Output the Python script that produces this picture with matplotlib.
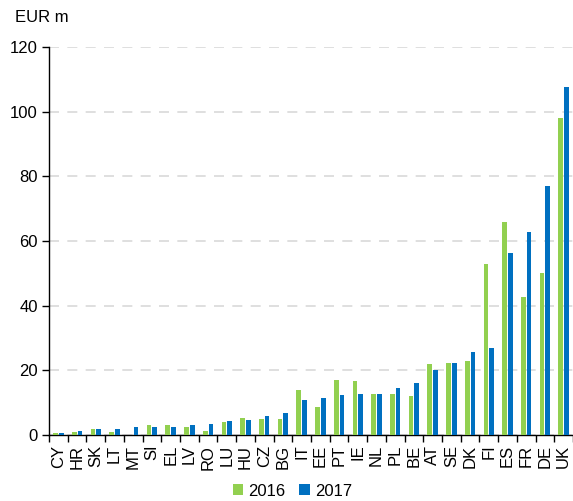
import matplotlib.pyplot as plt
import numpy as np

countries = ['CY', 'HR', 'SK', 'LT', 'MT', 'SI', 'EL', 'LV', 'RO', 'LU', 'HU', 'CZ', 'BG',
             'IT', 'EE', 'PT', 'IE', 'NL', 'PL', 'BE', 'AT', 'SE', 'DK', 'FI', 'ES', 'FR',
             'DE', 'UK']
v2016 = [0.5, 1.0, 2.0, 1.0, 0.0, 3.2, 3.2, 2.5, 1.2, 4.0, 5.3, 4.9, 5.0,
         14.0, 8.8, 17.0, 16.7, 12.7, 12.7, 12.0, 22.0, 22.2, 22.8, 52.8, 66.0, 42.7,
         50.0, 98.0]
v2017 = [0.7, 1.2, 1.8, 2.0, 2.5, 2.5, 2.6, 3.2, 3.5, 4.2, 4.5, 6.0, 6.8,
         10.8, 11.3, 12.3, 12.8, 12.8, 14.5, 16.2, 20.0, 22.2, 25.8, 27.0, 56.3, 62.8,
         77.0, 107.7]

plt.rcParams['font.family'] = ['Liberation Sans', 'DejaVu Sans']

green = '#92d050'
blue = '#0070c0'

fig = plt.figure(figsize=(5.73, 5.01), dpi=100)
ax = fig.add_axes([49 / 573, 66 / 501, 524 / 573, 388 / 501])

x = np.arange(len(countries))
ax.bar(x - 0.15, v2016, width=0.25, color=green, label='2016', zorder=3)
ax.bar(x + 0.15, v2017, width=0.25, color=blue, label='2017', zorder=3)

ax.set_xlim(-0.5, len(countries) - 0.5)
ax.set_ylim(0, 120)
ax.set_yticks(range(0, 121, 20))
ax.yaxis.grid(True, linestyle=(0, (6, 5)), color='#d9d9d9', linewidth=1.2, zorder=0)

ax.set_xticks(x)
ax.set_xticklabels(countries, rotation=90, fontsize=12)
ax.set_xticks(np.arange(-0.5, len(countries)), minor=True)
ax.tick_params(axis='x', which='major', length=0, pad=7)
ax.tick_params(axis='x', which='minor', length=5, width=1, color='black')
ax.tick_params(axis='y', labelsize=12, length=5, width=1, pad=3)

for side in ['top', 'right']:
    ax.spines[side].set_visible(False)
for side in ['left', 'bottom']:
    ax.spines[side].set_color('black')
    ax.spines[side].set_linewidth(1)

fig.text(15 / 573, 1 - 17 / 501, 'EUR m', fontsize=12, va='center', ha='left')

fig.legend(loc='center', bbox_to_anchor=(0.51, 1 - 491 / 501), ncol=2, frameon=False,
           fontsize=12, handlelength=0.65, handleheight=0.65, handletextpad=0.3,
           columnspacing=0.8)

fig.savefig('out.png', dpi=100)
